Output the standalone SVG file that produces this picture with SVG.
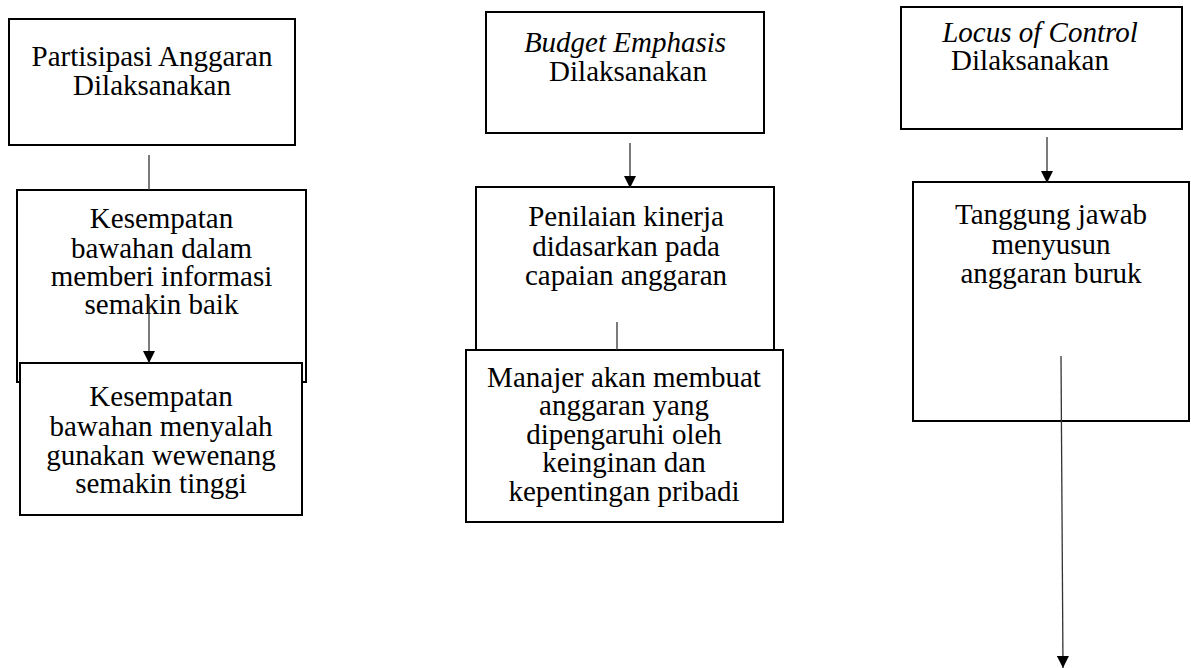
<svg xmlns="http://www.w3.org/2000/svg" width="1191" height="668" viewBox="0 0 1191 668">
<style>
.box{fill:#fff;stroke:#000;stroke-width:2}
.t{font-family:"Liberation Serif","Times New Roman",serif;font-size:29px;fill:#000;text-anchor:middle}
.i{font-style:italic}
.c{stroke:#333;stroke-width:1.3;fill:none}
</style>
<defs>
<marker id="ah" viewBox="0 0 12 12" markerWidth="12" markerHeight="12" refX="12" refY="6" orient="auto" markerUnits="userSpaceOnUse">
<path d="M0,0 L12,6 L0,12 z" fill="#000"/>
</marker>
</defs>
<rect width="1191" height="668" fill="#fff"/>

<g id="n1">
<rect class="box" x="9" y="19" width="286" height="126"/>
<text class="t" x="152" y="66">Partisipasi Anggaran</text>
<text class="t" x="152" y="95">Dilaksanakan</text>
</g>
<g id="n2">
<rect class="box" x="17" y="190" width="289" height="192"/>
<text class="t" x="161.5" y="228">Kesempatan</text>
<text class="t" x="161.5" y="258">bawahan dalam</text>
<text class="t" x="161.5" y="286">memberi informasi</text>
<text class="t" x="161.5" y="314">semakin baik</text>
</g>
<g id="n3">
<rect class="box" x="20" y="363" width="282" height="152"/>
<text class="t" x="161" y="406">Kesempatan</text>
<text class="t" x="161" y="436">bawahan menyalah</text>
<text class="t" x="161" y="465">gunakan wewenang</text>
<text class="t" x="161" y="493">semakin tinggi</text>
</g>
<g id="n4">
<rect class="box" x="486" y="12" width="278" height="121"/>
<text class="t i" x="625" y="52">Budget Emphasis</text>
<text class="t" x="628" y="81">Dilaksanakan</text>
</g>
<g id="n5">
<rect class="box" x="476" y="187" width="298" height="165"/>
<text class="t" x="626" y="226">Penilaian kinerja</text>
<text class="t" x="626" y="256">didasarkan pada</text>
<text class="t" x="626" y="285">capaian anggaran</text>
</g>
<g id="n6">
<rect class="box" x="466" y="350" width="317" height="172"/>
<text class="t" x="624" y="387">Manajer akan membuat</text>
<text class="t" x="624" y="415">anggaran yang</text>
<text class="t" x="624" y="444">dipengaruhi oleh</text>
<text class="t" x="624" y="472">keinginan dan</text>
<text class="t" x="624" y="501">kepentingan pribadi</text>
</g>
<g id="n7">
<rect class="box" x="901" y="7" width="281" height="122"/>
<text class="t i" x="1040" y="42">Locus of Control</text>
<text class="t" x="1030" y="70">Dilaksanakan</text>
</g>
<g id="n8">
<rect class="box" x="913" y="182" width="276" height="239"/>
<text class="t" x="1051" y="224">Tanggung jawab</text>
<text class="t" x="1051" y="254">menyusun</text>
<text class="t" x="1051" y="283">anggaran buruk</text>
</g>

<g id="connectors">
<line class="c" x1="149" y1="155" x2="149" y2="190"/>
<line class="c" x1="149" y1="297" x2="149" y2="363" marker-end="url(#ah)"/>
<line class="c" x1="630" y1="143" x2="630" y2="188" marker-end="url(#ah)"/>
<line class="c" x1="617" y1="322" x2="617" y2="350"/>
<line class="c" x1="1047" y1="137" x2="1047" y2="183" marker-end="url(#ah)"/>
<line class="c" x1="1061" y1="356" x2="1063" y2="668" marker-end="url(#ah)"/>
</g>
</svg>
